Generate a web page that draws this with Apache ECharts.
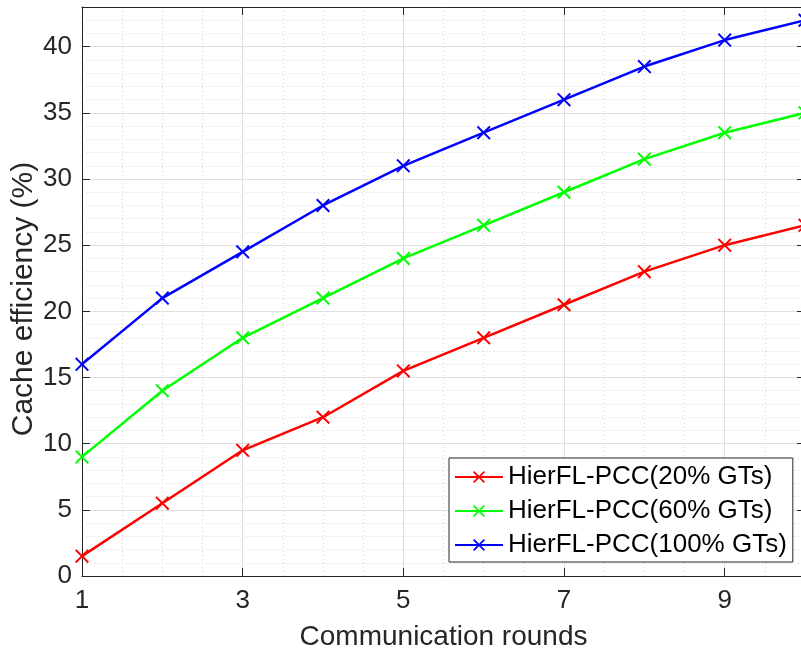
<!DOCTYPE html>
<html>
<head>
<meta charset="utf-8">
<script src="https://cdn.jsdelivr.net/npm/echarts@6/dist/echarts.min.js"></script>
<style>
html,body{margin:0;padding:0;background:#fff;}
#chart{width:801px;height:650px;}
</style>
</head>
<body>
<div id="chart"></div>
<script>
// ---- data ----
const rounds = [1, 2, 3, 4, 5, 6, 7, 8, 9, 10];
const gt20  = [1.5, 5.5, 9.5, 12, 15.5, 18, 20.5, 23, 25, 26.5];
const gt60  = [9, 14, 18, 21, 24, 26.5, 29, 31.5, 33.5, 35];
const gt100 = [16, 21, 24.5, 28, 31, 33.5, 36, 38.5, 40.5, 42];
const seriesNames = ['HierFL-PCC(20% GTs)', 'HierFL-PCC(60% GTs)', 'HierFL-PCC(100% GTs)'];
const seriesColors = ['#ff0000', '#00ff00', '#0000ff'];
const xName = 'Communication rounds';
const yName = 'Cache efficiency (%)';

const FONT = '"Liberation Sans", Arial, Helvetica, sans-serif';
const AXIS_COLOR = '#262626';
const X_SYMBOL = 'path://M0,1 L1,0 L5,4 L9,0 L10,1 L6,5 L10,9 L9,10 L5,6 L1,10 L0,9 L4,5 Z';

const chart = echarts.init(document.getElementById('chart'), null, {renderer: 'canvas'});

function pairs(ys) { return rounds.map((x, i) => [x, ys[i]]); }

const xBase = {type: 'value', min: 1, max: 10, gridIndex: 0};
const yBase = {type: 'value', min: 0, max: 43, gridIndex: 0};

const option = {
  animation: false,
  backgroundColor: '#ffffff',
  grid: {left: 82, top: 7, width: 723, height: 569, containLabel: false, outerBoundsMode: 'none'},
  legend: {
    orient: 'vertical',
    left: 449,
    top: 458,
    padding: [6, 6, 4, 5],
    itemGap: 8,
    itemWidth: 48,
    itemHeight: 15,
    borderColor: AXIS_COLOR,
    borderWidth: 1,
    backgroundColor: '#ffffff',
    textStyle: {fontFamily: FONT, fontSize: 26, color: '#000000'},
    data: seriesNames
  },
  xAxis: [
    Object.assign({}, xBase, {
      position: 'bottom', interval: 2, z: 2,
      axisLine: {show: true, onZero: false, lineStyle: {color: AXIS_COLOR, width: 1}},
      axisTick: {show: true, inside: true, length: 8, lineStyle: {color: AXIS_COLOR}},
      axisLabel: {show: true, margin: 12, fontFamily: FONT, fontSize: 26, color: AXIS_COLOR, showMaxLabel: false},
      splitLine: {show: true, lineStyle: {color: '#dfdfdf', width: 1, type: 'solid'}},
      name: xName, nameLocation: 'middle', nameGap: 47, nameMoveOverlap: false,
      nameTextStyle: {fontFamily: FONT, fontSize: 28, color: AXIS_COLOR}
    }),
    Object.assign({}, xBase, {
      position: 'top', interval: 2, z: 2,
      axisLine: {show: true, onZero: false, lineStyle: {color: AXIS_COLOR, width: 1}},
      axisTick: {show: true, inside: true, length: 8, lineStyle: {color: AXIS_COLOR}},
      axisLabel: {show: false},
      splitLine: {show: false}
    }),
    Object.assign({}, xBase, {
      position: 'bottom', interval: 0.5, z: 0,
      axisLine: {show: false}, axisTick: {show: false}, axisLabel: {show: false},
      splitLine: {show: true, lineStyle: {color: '#d6d6d6', width: 1, type: [1, 3]}}
    })
  ],
  yAxis: [
    Object.assign({}, yBase, {
      position: 'left', interval: 5, z: 2,
      axisLine: {show: true, onZero: false, lineStyle: {color: AXIS_COLOR, width: 1}},
      axisTick: {show: true, inside: true, length: 8, lineStyle: {color: AXIS_COLOR}},
      axisLabel: {show: true, margin: 10, fontFamily: FONT, fontSize: 26, color: AXIS_COLOR, showMaxLabel: false},
      splitLine: {show: true, lineStyle: {color: '#dfdfdf', width: 1, type: 'solid'}},
      name: yName, nameLocation: 'middle', nameGap: 43, nameRotate: 90, nameMoveOverlap: false,
      nameTextStyle: {fontFamily: FONT, fontSize: 30, color: AXIS_COLOR, padding: [0, 15, 0, 0]}
    }),
    Object.assign({}, yBase, {
      position: 'right', interval: 5, z: 2,
      axisLine: {show: true, onZero: false, lineStyle: {color: AXIS_COLOR, width: 1}},
      axisTick: {show: true, inside: true, length: 8, lineStyle: {color: AXIS_COLOR}},
      axisLabel: {show: false},
      splitLine: {show: false}
    }),
    Object.assign({}, yBase, {
      position: 'left', interval: 1, z: 0,
      axisLine: {show: false}, axisTick: {show: false}, axisLabel: {show: false},
      splitLine: {show: true, lineStyle: {color: '#d6d6d6', width: 1, type: [1, 3]}}
    })
  ],
  series: [gt20, gt60, gt100].map((ys, i) => ({
    name: seriesNames[i],
    type: 'line',
    xAxisIndex: 0,
    yAxisIndex: 0,
    z: 5,
    data: pairs(ys),
    symbol: X_SYMBOL,
    symbolSize: 14,
    showAllSymbol: true,
    clip: false,
    color: seriesColors[i],
    lineStyle: {color: seriesColors[i], width: 2.5},
    itemStyle: {color: seriesColors[i], borderWidth: 0}
  }))
};

chart.setOption(option);
</script>
</body>
</html>
